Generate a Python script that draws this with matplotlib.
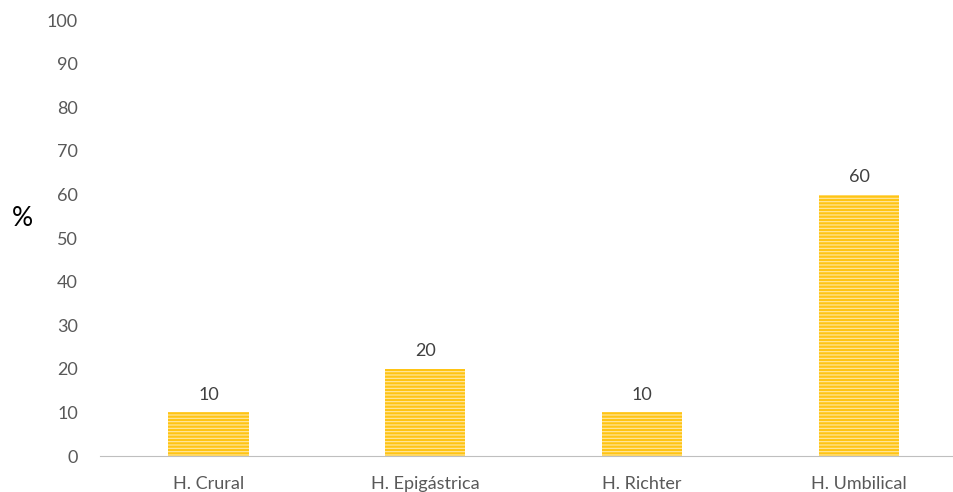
import matplotlib.pyplot as plt
import numpy as np

plt.rcParams['font.family'] = ['Lato', 'DejaVu Sans']

categorias = ['H. Crural', 'H. Epigástrica', 'H. Richter', 'H. Umbilical']
porcentajes = [10, 20, 10, 60]

fig = plt.figure(figsize=(9.54, 4.92), dpi=100)
ax = fig.add_axes([0.105, 0.073, 0.909, 0.886])

x = np.arange(len(categorias))
plt.rcParams['hatch.linewidth'] = 0.8
bars = ax.bar(x, porcentajes, width=0.37, color='#FFC414', edgecolor='#FFE9A6',
              hatch='-----', linewidth=0)

for xi, v in zip(x, porcentajes):
    ax.text(xi, v + 2.2, str(v), ha='center', va='bottom', fontsize=13, color='#404040')

ax.set_xlim(-0.5, 3.5)
ax.set_ylim(0, 100)
ax.set_yticks(range(0, 101, 10))
ax.set_xticks(x)
ax.set_xticklabels(categorias)
ax.tick_params(axis='both', length=0, labelsize=13, colors='#595959')
ax.tick_params(axis='x', pad=14)
ax.tick_params(axis='y', pad=16)

for s in ['top', 'right', 'left']:
    ax.spines[s].set_visible(False)
ax.spines['bottom'].set_color('#BFBFBF')

fig.text(0.012, 0.555, '%', fontsize=19, color='black', ha='left', va='center')

fig.savefig('out.png', dpi=100)
